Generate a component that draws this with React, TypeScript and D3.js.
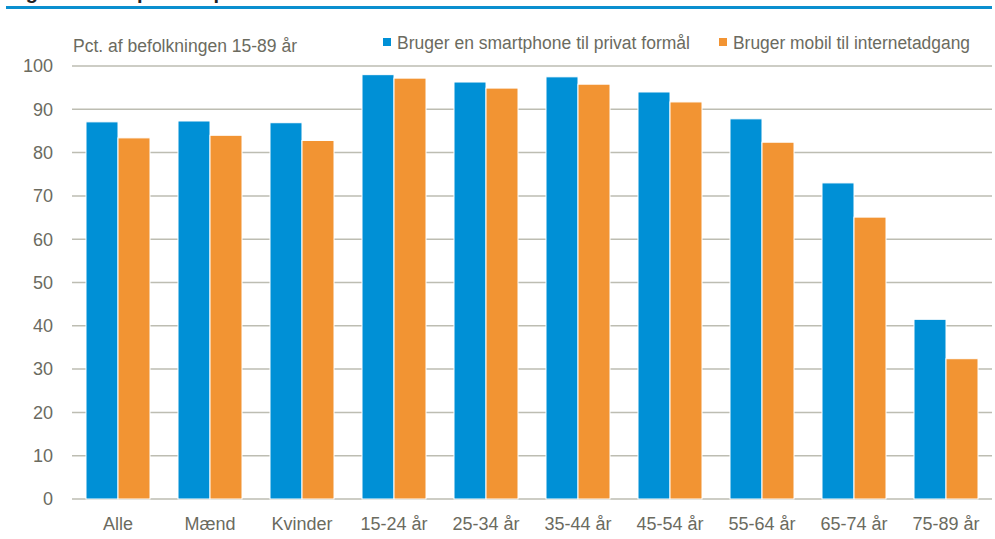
import React from "react";
import * as d3 from "d3";

const categories = ["Alle", "Mænd", "Kvinder", "15-24 år", "25-34 år", "35-44 år", "45-54 år", "55-64 år", "65-74 år", "75-89 år"];
const smartphone = [87.1, 87.3, 86.9, 98.0, 96.3, 97.5, 94.0, 87.8, 73.0, 41.5];
const mobilInternet = [83.4, 84.0, 82.8, 97.2, 94.9, 95.8, 91.7, 82.4, 65.1, 32.4];
const seriesNames = ["Bruger en smartphone til privat formål", "Bruger mobil til internetadgang"];
const yTicks = [0, 10, 20, 30, 40, 50, 60, 70, 80, 90, 100];

const W = 995;
const H = 539;
const colors = ["#0090d6", "#f29433"];
const textColor = "#6b6b5f";
const font = "'Liberation Sans', Arial, sans-serif";

const App = () => {
  const x = d3.scaleBand<string>().domain(categories).range([72, 992]);
  const y = d3.scaleLinear().domain([0, 100]).range([499, 66]);
  const inner = d3.scaleBand<number>().domain([0, 1]).range([14, 78]);

  const series = [smartphone, mobilInternet];

  return (
    <svg width={W} height={H} style={{ position: "fixed", left: 0, top: 0, background: "#fff" }} fontFamily={font}>
      {/* title sits mostly above the frame, only descenders show */}
      <text x={8} y={-1} fontSize={20} fontWeight="bold" fill="#222">
        Figur 1 Smartphone i pct.
      </text>
      <line x1={6} x2={992} y1={7.5} y2={7.5} stroke="#0a8fcf" strokeWidth={3} />

      {yTicks.map(t => (
        <g key={t}>
          <line x1={72} x2={992} y1={y(t)} y2={y(t)} stroke="#bdbdb2" strokeWidth={1.5} />
          <text x={53} y={y(t)} dy="0.35em" textAnchor="end" fontSize={18} fill={textColor}>{t}</text>
        </g>
      ))}

      {categories.map((c, i) => (
        <g key={c} transform={`translate(${x(c)},0)`}>
          {series.map((s, k) => (
            <rect
              key={k}
              x={inner(k)}
              y={y(s[i])}
              width={inner.bandwidth()}
              height={y(0) - y(s[i])}
              fill={colors[k]}
              stroke="#fff"
              strokeWidth={1}
            />
          ))}
          <text x={x.bandwidth() / 2} y={530} textAnchor="middle" fontSize={18} fill={textColor}>{c}</text>
        </g>
      ))}

      <text x={73} y={52} fontSize={18} fill={textColor} textLength={224} lengthAdjust="spacingAndGlyphs">
        Pct. af befolkningen 15-89 år
      </text>

      <rect x={383} y={38} width={8} height={8} fill={colors[0]} />
      <text x={397} y={49} fontSize={18} fill={textColor} textLength={293} lengthAdjust="spacingAndGlyphs">
        {seriesNames[0]}
      </text>
      <rect x={719} y={38} width={8} height={8} fill={colors[1]} />
      <text x={733} y={49} fontSize={18} fill={textColor} textLength={237} lengthAdjust="spacingAndGlyphs">
        {seriesNames[1]}
      </text>
    </svg>
  );
};

export default App;
